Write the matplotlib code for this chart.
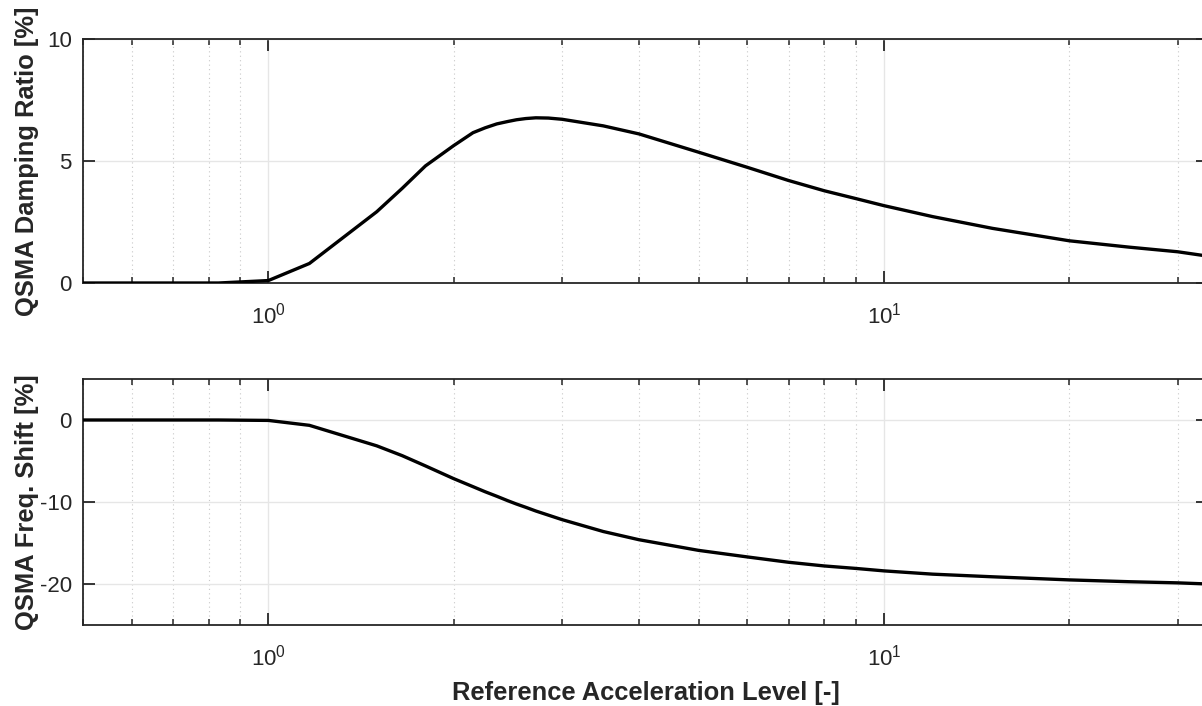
import matplotlib
matplotlib.use("Agg")
import matplotlib.pyplot as plt
from matplotlib.ticker import NullFormatter, LogLocator, FixedLocator

plt.rcParams['font.family'] = ['Liberation Sans', 'DejaVu Sans']
plt.rcParams['mathtext.fontset'] = 'custom'
plt.rcParams['mathtext.rm'] = 'Liberation Sans'
plt.rcParams['axes.unicode_minus'] = False

# Reference acceleration levels
accel = [0.5, 0.6, 0.7, 0.83, 1.0, 1.166, 1.5, 1.65, 1.8, 2.0, 2.15, 2.25, 2.35, 2.45,
         2.53, 2.62, 2.72, 2.85, 3.0, 3.5, 4.0, 5.0, 6.0, 7.0, 8.0, 9.0, 10.0, 12.0,
         15.0, 20.0, 25.0, 30.0, 33.6]
# QSMA damping ratio [%]
damping = [0.0, 0.0, 0.0, 0.0, 0.1, 0.8, 2.92, 3.88, 4.8, 5.63, 6.16, 6.36, 6.52, 6.62,
           6.69, 6.74, 6.77, 6.76, 6.71, 6.44, 6.11, 5.36, 4.74, 4.2, 3.78, 3.46, 3.17, 2.72,
           2.24, 1.73, 1.47, 1.28, 1.1]
# QSMA frequency shift [%]
freq_shift = [0.0, 0.0, 0.0, 0.0, -0.05, -0.65, -3.15, -4.35, -5.6, -7.15, -8.13, -8.75, -9.3,
              -9.85, -10.25, -10.65, -11.1, -11.6, -12.15, -13.6, -14.6, -15.9, -16.7, -17.35,
              -17.8, -18.1, -18.4, -18.8, -19.12, -19.5, -19.72, -19.86, -20.0]

xlim = (0.5, 33.6)
top_ylim = (0, 10)
top_yticks = [0, 5, 10]
bot_ylim = (-25, 5)
bot_yticks = [-20, -10, 0]

W, H = 1202, 706
fig = plt.figure(figsize=(W / 100, H / 100), dpi=100)

AX_L, AX_R = 83, 1208

def px_axes(top, bottom):
    return fig.add_axes([AX_L / W, 1 - bottom / H, (AX_R - AX_L) / W, (bottom - top) / H])

ax1 = px_axes(39, 283)
ax2 = px_axes(379, 625)

axc = '#262626'
tick_fs = 16
label_fs = 18.4

for ax, y, ylim, yticks, ylab in [
        (ax1, damping, top_ylim, top_yticks, 'QSMA Damping Ratio [%]'),
        (ax2, freq_shift, bot_ylim, bot_yticks, 'QSMA Freq. Shift [%]')]:
    ax.set_xscale('log')
    ax.plot(accel, y, color='black', lw=2.4, solid_joinstyle='round', zorder=3)
    ax.set_xlim(*xlim)
    ax.set_ylim(*ylim)
    ax.set_yticks(yticks)
    ax.xaxis.set_major_locator(FixedLocator([1, 10]))
    ax.xaxis.set_minor_locator(LogLocator(base=10, subs=range(2, 10)))
    ax.xaxis.set_minor_formatter(NullFormatter())
    ax.grid(True, which='major', color='#e6e6e6', lw=1.0, ls='-', zorder=0)
    ax.grid(True, which='minor', axis='x', color='#c8c8c8', lw=0.8, ls=(0, (1, 3)), zorder=0)
    ax.set_axisbelow(True)
    for s in ax.spines.values():
        s.set_color(axc)
        s.set_linewidth(1.3)
    ax.tick_params(which='major', direction='in', length=8.5, width=1.3, color=axc,
                   top=True, right=True, labelsize=tick_fs, labelcolor=axc)
    ax.tick_params(which='minor', direction='in', length=4.3, width=1.1, color=axc,
                   top=True, right=True)
    ax.tick_params(axis='y', pad=8)
    ax.tick_params(axis='x', which='major', pad=14)
    ax.set_ylabel(ylab, fontsize=label_fs, fontweight='bold', color=axc)
    ax.yaxis.set_label_coords((39 - AX_L) / (AX_R - AX_L), 0.5)

ax2.set_xlabel('Reference Acceleration Level [-]', fontsize=label_fs, fontweight='bold',
               color=axc, labelpad=8)

fig.savefig('out.png', dpi=100)
